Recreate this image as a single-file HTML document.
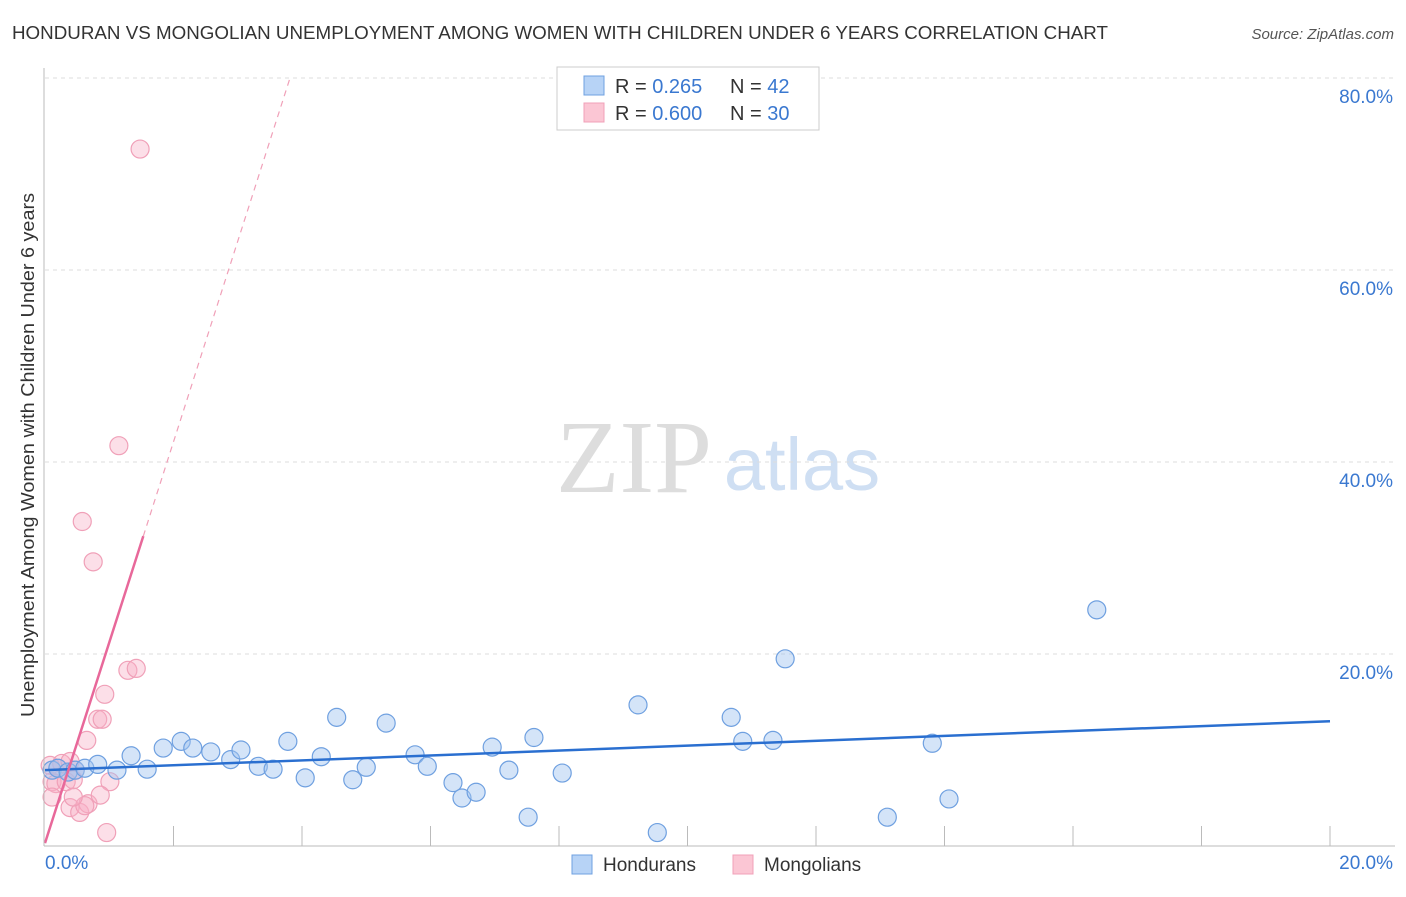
<!DOCTYPE html>
<html><head><meta charset="utf-8"><style>
body{margin:0;background:#fff;font-family:"Liberation Sans",sans-serif}
</style></head><body>
<svg width="1406" height="892" xmlns="http://www.w3.org/2000/svg" font-family="Liberation Sans, sans-serif">
<text x="12" y="39" font-size="18" fill="#333" textLength="1096" lengthAdjust="spacingAndGlyphs">HONDURAN VS MONGOLIAN UNEMPLOYMENT AMONG WOMEN WITH CHILDREN UNDER 6 YEARS CORRELATION CHART</text>
<text x="1394" y="39" font-size="15" fill="#555" font-style="italic" text-anchor="end">Source: ZipAtlas.com</text>
<text x="634" y="492" font-size="104" fill="#ddd" text-anchor="middle" font-family="Liberation Serif, serif">ZIP</text>
<text x="802" y="490" font-size="74" fill="#cfdff3" text-anchor="middle">atlas</text>
<text transform="translate(34,455) rotate(-90)" font-size="18" fill="#333" text-anchor="middle" textLength="524" lengthAdjust="spacingAndGlyphs">Unemployment Among Women with Children Under 6 years</text>
<g id="grid"></g><g id="ticks"></g><g id="marks"></g>
<line x1="44" y1="68" x2="44" y2="846" stroke="#bbb"/>
<line x1="44" y1="846" x2="1395" y2="846" stroke="#bbb"/>
<text x="45" y="869" font-size="19" fill="#3a78d0">0.0%</text>
<text x="1393" y="869" font-size="19" fill="#3a78d0" text-anchor="end">20.0%</text>
<g>
<rect x="557" y="67" width="262" height="63" fill="#fff" stroke="#ccc"/>
<rect x="584" y="76" width="20" height="19" fill="#b7d3f6" stroke="#6fa0e0"/>
<rect x="584" y="103" width="20" height="19" fill="#fbc6d4" stroke="#f0a0b8"/>
<text x="615" y="93" font-size="20" fill="#333">R = <tspan fill="#3a78d0">0.265</tspan></text>
<text x="730" y="93" font-size="20" fill="#333">N = <tspan fill="#3a78d0">42</tspan></text>
<text x="615" y="120" font-size="20" fill="#333">R = <tspan fill="#3a78d0">0.600</tspan></text>
<text x="730" y="120" font-size="20" fill="#333">N = <tspan fill="#3a78d0">30</tspan></text>
</g>
<g>
<rect x="572" y="855" width="20" height="19" fill="#b7d3f6" stroke="#6fa0e0"/>
<text x="603" y="871" font-size="19" fill="#333">Hondurans</text>
<rect x="733" y="855" width="20" height="19" fill="#fbc6d4" stroke="#f0a0b8"/>
<text x="764" y="871" font-size="19" fill="#333">Mongolians</text>
</g>
</svg>
<script>
const yTicks=[20,40,60,80];
const yTickLabels=["20.0%","40.0%","60.0%","80.0%"];
const xTicks=[2,4,6,8,10,12,14,16,18,20];
const hondX=[0.11,0.20,0.36,0.47,0.62,0.82,1.12,1.34,1.59,1.84,2.12,2.30,2.58,2.89,3.05,3.32,3.55,3.78,4.05,4.30,4.54,4.79,5.00,5.31,5.76,5.95,6.35,6.49,6.71,6.96,7.22,7.52,7.61,8.05,9.23,9.53,10.68,10.86,11.33,11.52,13.11,13.81,14.07,16.37];
const hondY=[7.9,8.1,7.7,7.9,8.1,8.5,7.9,9.4,8.0,10.2,10.9,10.2,9.8,9.0,10.0,8.3,8.0,10.9,7.1,9.3,13.4,6.9,8.2,12.8,9.5,8.3,6.6,5.0,5.6,10.3,7.9,3.0,11.3,7.6,14.7,1.4,13.4,10.9,11.0,19.5,3.0,10.7,4.9,24.6];
const mongX=[1.48,1.15,0.58,0.75,1.29,1.42,0.93,0.82,0.89,0.65,0.08,0.20,0.26,0.39,0.47,0.11,0.17,0.33,0.44,0.11,0.39,0.54,0.67,0.62,0.44,1.01,0.96,0.86];
const mongY=[72.6,41.7,33.8,29.6,18.3,18.5,15.8,13.2,13.2,11.0,8.4,8.1,8.6,8.8,7.9,6.7,6.5,6.7,6.9,5.1,4.0,3.5,4.4,4.2,5.1,6.7,1.4,5.3];
const hondTrend=[7.9,13.0];
const mongTrend=[0.3,20.9];
const X=v=>45+v*64.25, Y=v=>846-v*9.6;
const NS="http://www.w3.org/2000/svg";
function mk(p,t,a){const e=document.createElementNS(NS,t);for(const k in a)e.setAttribute(k,a[k]);document.getElementById(p).appendChild(e);return e;}
yTicks.forEach((t,i)=>{
 const l=mk('grid','line',{x1:45,x2:1395,y1:Y(t),y2:Y(t),stroke:'#ddd','stroke-dasharray':'4 4'});
 
 
 const tx=mk('grid','text',{x:1393,y:Y(t)+25,'font-size':19,fill:'#3a78d0','text-anchor':'end'});
 tx.textContent=yTickLabels[i];
 
 
});
xTicks.forEach(t=>{
 const l=mk('ticks','line',{x1:X(t),x2:X(t),y1:826,y2:846,stroke:'#bbb'});
 
 
});
mongX.forEach((v,i)=>{
 const c=mk('marks','circle',{cx:X(v),cy:Y(mongY[i]),r:9,fill:'rgba(248,175,198,0.4)',stroke:'#f0a0b8','stroke-width':1.2});
 
 
});
hondX.forEach((v,i)=>{
 const c=mk('marks','circle',{cx:X(v),cy:Y(hondY[i]),r:9,fill:'rgba(160,196,240,0.45)',stroke:'#6fa0e0','stroke-width':1.2});
 
 
});
const bt=mk('marks','line',{x1:X(0),y1:Y(hondTrend[0]),x2:X(20),y2:Y(hondTrend[1]),stroke:'#2a6fd0','stroke-width':2.5});


const xs=1.53, xe=(80-mongTrend[0])/mongTrend[1];
const pt=mk('marks','line',{x1:X(0),y1:Y(mongTrend[0]),x2:X(xs),y2:Y(mongTrend[0]+mongTrend[1]*xs),stroke:'#e8689a','stroke-width':2.5});


const pd=mk('marks','line',{x1:X(xs),y1:Y(mongTrend[0]+mongTrend[1]*xs),x2:X(xe),y2:Y(80),stroke:'#f0a0b8','stroke-width':1.2,'stroke-dasharray':'6 5'});


</script>
</body></html>
